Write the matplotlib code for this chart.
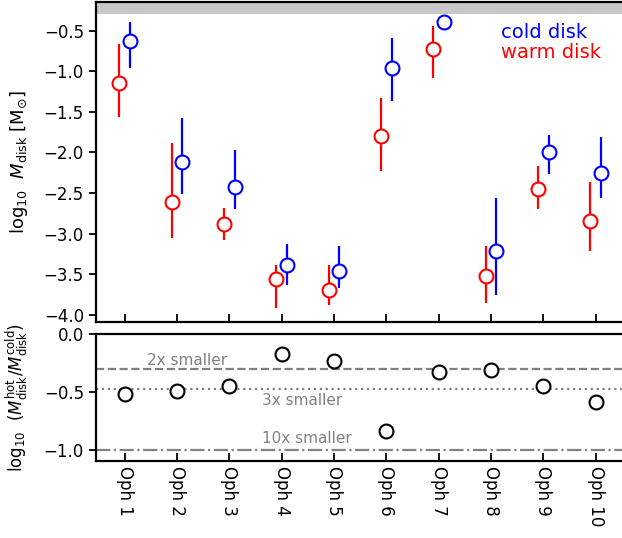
import matplotlib.pyplot as plt
import numpy as np

# --- data ---
sources = ['Oph 1', 'Oph 2', 'Oph 3', 'Oph 4', 'Oph 5',
           'Oph 6', 'Oph 7', 'Oph 8', 'Oph 9', 'Oph 10']

warm_mass = [-1.15, -2.61, -2.88, -3.56, -3.69, -1.80, -0.73, -3.52, -2.45, -2.84]
warm_err_up = [0.49, 0.72, 0.20, 0.17, 0.30, 0.47, 0.29, 0.37, 0.28, 0.48]
warm_err_lo = [0.42, 0.45, 0.20, 0.36, 0.19, 0.43, 0.35, 0.33, 0.25, 0.37]

cold_mass = [-0.63, -2.12, -2.43, -3.39, -3.46, -0.96, -0.39, -3.21, -2.00, -2.25]
cold_err_up = [0.24, 0.54, 0.46, 0.26, 0.30, 0.37, 0.05, 0.65, 0.21, 0.44]
cold_err_lo = [0.33, 0.39, 0.27, 0.25, 0.21, 0.41, 0.10, 0.55, 0.27, 0.31]

log_ratio = [-0.52, -0.49, -0.45, -0.17, -0.23, -0.84, -0.33, -0.31, -0.45, -0.59]

ref_lines = [np.log10(1 / 2), np.log10(1 / 3), np.log10(1 / 10)]
ref_labels = ['2x smaller', '3x smaller', '10x smaller']


def main():
    plt.rcParams['font.size'] = 12
    plt.rcParams['mathtext.fontset'] = 'dejavusans'

    x = np.arange(1, len(sources) + 1)
    dx = 0.1

    fig = plt.figure(figsize=(6.22, 5.38), dpi=100)
    ax = fig.add_axes([0.154, 0.4015, 0.85, 0.5945])
    ax2 = fig.add_axes([0.154, 0.143, 0.85, 0.236])

    # --- top panel: disk masses ---
    ax.axhspan(-0.3, 0.0, color='#c8c8c8', lw=0, zorder=0)
    ax.errorbar(x - dx, warm_mass, yerr=[warm_err_lo, warm_err_up], fmt='o',
                color='red', mfc='white', mec='red', ms=10, mew=1.5,
                elinewidth=1.6, capsize=0, zorder=3)
    ax.errorbar(x + dx, cold_mass, yerr=[cold_err_lo, cold_err_up], fmt='o',
                color='blue', mfc='white', mec='blue', ms=10, mew=1.5,
                elinewidth=1.6, capsize=0, zorder=3)

    ax.text(0.767, 0.904, 'cold disk', color='blue', fontsize=14,
            transform=ax.transAxes, va='center')
    ax.text(0.767, 0.842, 'warm disk', color='red', fontsize=14,
            transform=ax.transAxes, va='center')

    ax.set_xlim(0.45, 10.55)
    ax.set_ylim(-4.09, -0.15)
    ax.set_yticks(np.arange(-4.0, -0.49, 0.5))
    ax.set_xticks(x)
    ax.set_xticklabels([])
    ax.set_ylabel(r'log$_{10}$  $M_{\rm disk}$ [M$_{\odot}$]', fontsize=13)

    # --- bottom panel: mass ratio ---
    styles = ['--', ':', '-.']
    for val, ls in zip(ref_lines, styles):
        ax2.axhline(val, color='gray', ls=ls, lw=1.6, zorder=1)
    ax2.text(1.42, ref_lines[0] + 0.01, ref_labels[0], color='gray',
             fontsize=11, va='bottom')
    ax2.text(3.62, ref_lines[1] - 0.03, ref_labels[1], color='gray',
             fontsize=11, va='top')
    ax2.text(3.62, ref_lines[2] + 0.03, ref_labels[2], color='gray',
             fontsize=11, va='bottom')

    ax2.plot(x, log_ratio, 'o', mfc='white', mec='black', ms=10, mew=1.5,
             zorder=3)

    ax2.set_xlim(0.45, 10.55)
    ax2.set_ylim(-1.1, 0.0)
    ax2.set_yticks([-1.0, -0.5, 0.0])
    ax2.set_xticks(x)
    ax2.set_xticklabels(sources, rotation=-90)
    ax2.set_ylabel(r'log$_{10}$  ($M^{\rm hot}_{\rm disk}/M^{\rm cold}_{\rm disk}$)',
                   fontsize=12)

    for a in (ax, ax2):
        for sp in a.spines.values():
            sp.set_linewidth(1.6)
        a.tick_params(axis='x', direction='in', length=6, width=1.3)
        a.tick_params(axis='y', direction='out', length=5, width=1.3)
        a.yaxis.set_label_coords(-0.125, 0.5)

    fig.savefig('out.png', dpi=100)


if __name__ == '__main__':
    main()
